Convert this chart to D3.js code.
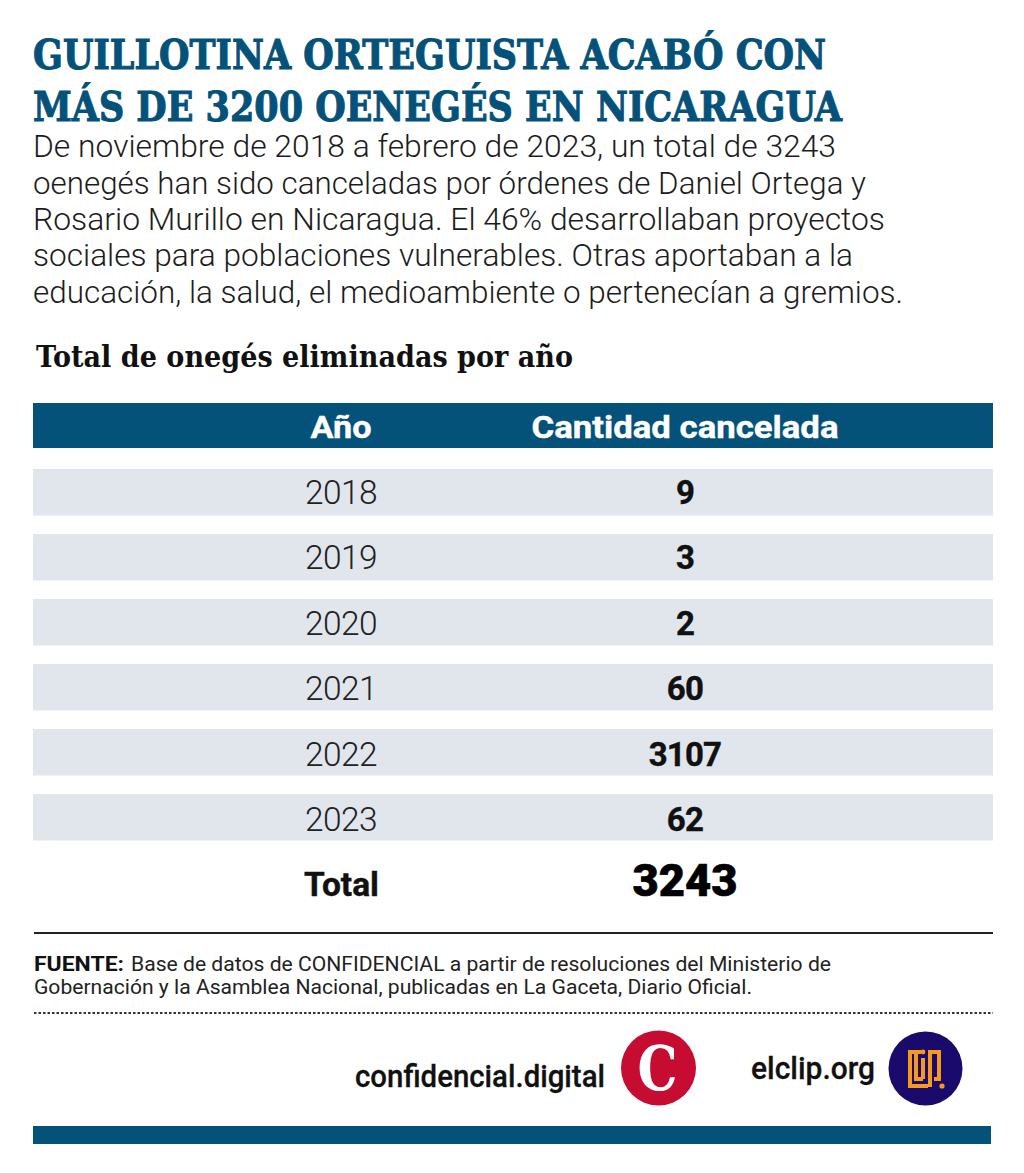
<!DOCTYPE html>
<html><head><meta charset="utf-8">
<script src="https://cdn.jsdelivr.net/npm/d3@7"></script>
<style>html,body{margin:0;padding:0;background:#fff}svg{display:block}</style>
</head><body><div id="c"></div>
<script>
const titleLines = ["GUILLOTINA ORTEGUISTA ACABÓ CON","MÁS DE 3200 OENEGÉS EN NICARAGUA"];
const bodyLines = ["De noviembre de 2018 a febrero de 2023, un total de 3243","oenegés han sido canceladas por órdenes de Daniel Ortega y","Rosario Murillo en Nicaragua. El 46% desarrollaban proyectos","sociales para poblaciones vulnerables. Otras aportaban a la","educación, la salud, el medioambiente o pertenecían a gremios."];
const subtitle = "Total de onegés eliminadas por año";
const headers = ["Año","Cantidad cancelada"];
const years = ["2018","2019","2020","2021","2022","2023"];
const counts = [9,3,2,60,3107,62];
const totalLabel = "Total";
const totalValue = 3243;
const sourceBold = "FUENTE:";
const sourceLine1 = "Base de datos de CONFIDENCIAL a partir de resoluciones del Ministerio de";
const sourceLine2 = "Gobernación y la Asamblea Nacional, publicadas en La Gaceta, Diario Oficial.";

const blue="#04527a", rowFill="#e1e6ed", ink="#111";
const svg=d3.select("#c").append("svg").attr("width",1024).attr("height",1173);
function fit(x,y,str,len,font,size,weight,fill,anchor){
  const t=svg.append("text").attr("x",x).attr("y",y).text(str)
    .attr("font-family",font).attr("font-size",size).attr("font-weight",weight).attr("fill",fill)
    .attr("text-anchor",anchor||"start");
  if(len) t.attr("textLength",len).attr("lengthAdjust","spacingAndGlyphs");
  return t;
}
const titleLen=[793,809], titleY=[69,121];
titleLines.forEach((s,i)=>fit(33,titleY[i],s,titleLen[i],"DejaVu Serif",41,800,blue).attr("stroke",blue).attr("stroke-width",1.1));
const bodyLen=[803,833,852,820,870], bodyY=[157,194,230,266,303];
bodyLines.forEach((s,i)=>fit(33,bodyY[i],s,bodyLen[i],"Roboto",30.5,300,"#1c1c1c"));
fit(36,367,subtitle,537,"DejaVu Serif",30.5,700,ink);

// table
const tableX0=33, tableX1=993, colYear=341, colCount=685;
const rowKeys=[...years,totalLabel];
const y=d3.scaleBand().domain(rowKeys).range([469,905]).paddingInner(19/65).paddingOuter(0);
const yText=d3.scalePoint().domain(years).range([504,831]);
svg.append("rect").attr("x",tableX0).attr("y",403).attr("width",tableX1-tableX0).attr("height",45).attr("fill",blue);
fit(colYear,438,headers[0],61,"Roboto",31,700,"#fff","middle").attr("stroke","#fff").attr("stroke-width",.4);
fit(colCount,438,headers[1],307,"Roboto",31,700,"#fff","middle").attr("stroke","#fff").attr("stroke-width",.4);
const rows=svg.append("g").selectAll("g").data(years.map((yr,i)=>({yr,v:counts[i]}))).join("g");
rows.append("rect").attr("x",tableX0).attr("width",tableX1-tableX0).attr("y",d=>y(d.yr)).attr("height",y.bandwidth()+.5).attr("fill",rowFill);
rows.append("text").attr("x",colYear).attr("y",d=>yText(d.yr)).attr("text-anchor","middle")
  .attr("font-family","Roboto").attr("font-weight",300).attr("font-size",33.5).attr("letter-spacing",-.6).attr("fill","#222").text(d=>d.yr);
rows.append("text").attr("x",colCount).attr("y",d=>yText(d.yr)).attr("text-anchor","middle")
  .attr("font-family","Roboto").attr("font-weight",700).attr("font-size",33).attr("letter-spacing",-.8).attr("fill",ink).attr("stroke",ink).attr("stroke-width",.4).text(d=>d.v);
fit(colYear+.5,896,totalLabel,75,"Roboto",33,700,ink,"middle").attr("stroke",ink).attr("stroke-width",.4);
fit(colCount,896,String(totalValue),105,"Roboto",45,900,"#000","middle").attr("stroke","#000").attr("stroke-width",.6);

// rules and source
svg.append("line").attr("x1",34).attr("x2",993).attr("y1",933).attr("y2",933).attr("stroke","#222").attr("stroke-width",2);
fit(34,971,sourceBold,90,"Roboto",20,700,ink);
fit(131,971,sourceLine1,700,"Roboto",20,400,"#222");
fit(34,994,sourceLine2,718,"Roboto",20,400,"#222");
svg.append("line").attr("x1",34).attr("x2",993).attr("y1",1013).attr("y2",1013).attr("stroke","#333").attr("stroke-width",2).attr("stroke-dasharray","2.5 2");

// logos
fit(355,1087,"confidencial.digital",250,"Roboto",31,500,ink).attr("stroke",ink).attr("stroke-width",.3);
svg.append("circle").attr("cx",658.5).attr("cy",1068).attr("r",37.5).attr("fill","#c60c30");
fit(657.5,1090,"C",40,"DejaVu Serif",62,900,"#fff","middle");
fit(751,1079,"elclip.org",124,"Roboto",31,500,ink).attr("stroke",ink).attr("stroke-width",.3);
svg.append("circle").attr("cx",925.5).attr("cy",1068.5).attr("r",37).attr("fill","#1a0a6b");
const o="#f59a1f";
const lg=svg.append("g").attr("fill","none").attr("stroke",o).attr("stroke-width",4);
lg.append("path").attr("d","M921 1052H910V1086H928");
lg.append("path").attr("d","M916 1052V1079H923");
lg.append("path").attr("d","M923 1058V1079");
lg.append("path").attr("d","M930 1087V1052H939V1079H934");
svg.append("circle").attr("cx",923).attr("cy",1052).attr("r",2.4).attr("fill",o);
svg.append("circle").attr("cx",942).attr("cy",1086).attr("r",2.6).attr("fill",o);

svg.append("rect").attr("x",33).attr("y",1126).attr("width",958).attr("height",18).attr("fill",blue);
</script></body></html>
